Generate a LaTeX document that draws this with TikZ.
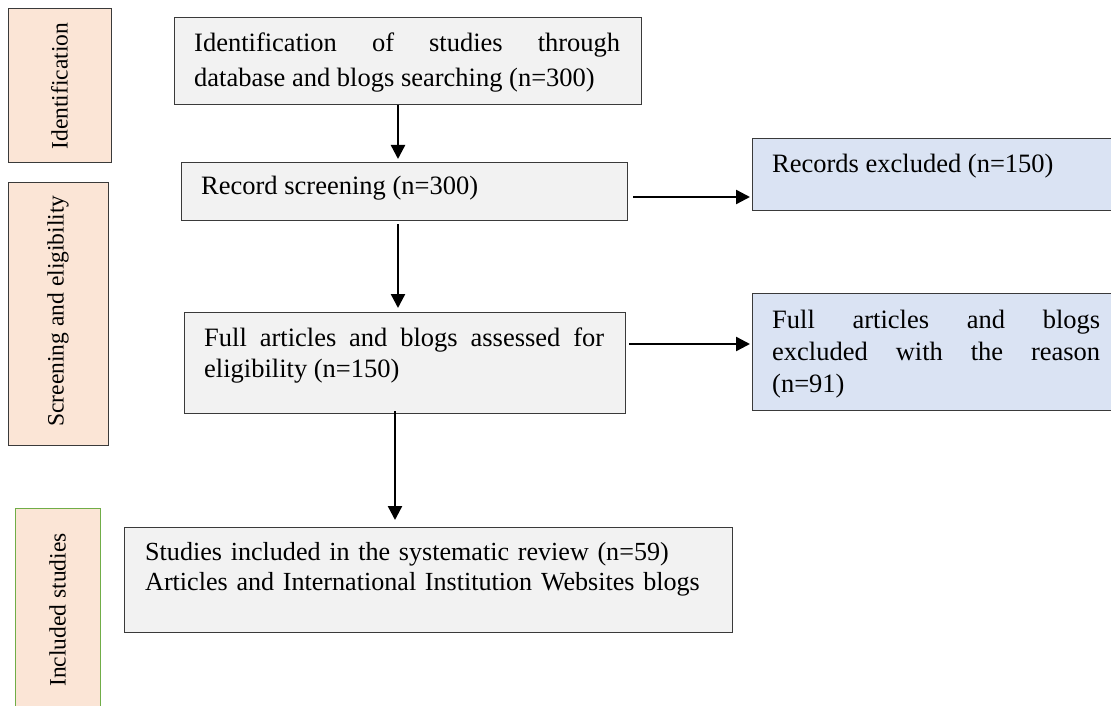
\documentclass[tikz,border=0pt]{standalone}
\usepackage{fontspec}
\setmainfont{Liberation Serif}
\usetikzlibrary{arrows.meta}
\definecolor{boxgray}{HTML}{F2F2F2}
\definecolor{peach}{HTML}{FBE5D6}
\definecolor{paleblue}{HTML}{DAE3F3}
\definecolor{edgegray}{HTML}{3A3A3A}
\definecolor{sidegreen}{HTML}{70AD47}
\hyphenpenalty=10000
\exhyphenpenalty=10000
\begin{document}
\begin{tikzpicture}[x=1pt,y=-1pt,
  box/.style={rectangle, draw=edgegray, line width=1.3pt, fill=boxgray, inner sep=0, anchor=north west},
  bluebox/.style={box, fill=paleblue},
  sidebox/.style={box, fill=peach},
  txt/.style={anchor=base west, inner sep=0, font=\fontsize{26.5}{31}\selectfont},
  sidetxt/.style={rotate=90, inner sep=0, font=\fontsize{23.5}{28}\selectfont},
  arr/.style={-{Triangle[length=14pt,width=14pt]}, line width=2.4pt, black}]
\useasboundingbox (0,0) rectangle (1111,706);

% side boxes
\node[sidebox, minimum width=103pt, minimum height=154pt] (s1) at (8,8) {};
\node[sidetxt] (s1t) at (59.5,86) {Identification};
\node[sidebox, minimum width=100pt, minimum height=263pt] (s2) at (8,182) {};
\node[sidetxt] (s2t) at (58,311) {Screening and eligibility};
\node[sidebox, draw=sidegreen, minimum width=85pt, minimum height=210pt] (s3) at (15,508) {};
\node[sidetxt] (s3t) at (57.5,610) {Included studies};

% main boxes
\node[box, minimum width=467pt, minimum height=87pt] (b1) at (174,17) {};
\node[txt, text width=426pt, align=justify, font=\fontsize{26.5}{35}\selectfont] (b1t) at (194,52)
  {Identification of studies through database and blogs searching (n=300)};

\node[box, minimum width=446pt, minimum height=58pt] (b2) at (181,162) {};
\node[txt] (b2t) at (201,194) {Record screening (n=300)};

\node[bluebox, minimum width=359pt, minimum height=72pt] (e1) at (752,138) {};
\node[txt] (e1t) at (772,172) {Records excluded (n=150)};

\node[box, minimum width=441pt, minimum height=101pt] (b3) at (184,312) {};
\node[txt, text width=400pt, align=justify] (b3t) at (204,346)
  {Full articles and blogs assessed for eligibility (n=150)};

\node[bluebox, minimum width=359pt, minimum height=117pt] (e2) at (752,293) {};
\node[txt, text width=328pt, align=justify, font=\fontsize{26.5}{32}\selectfont] (e2t) at (772,328)
  {Full articles and blogs excluded with the reason (n=91)};

\node[box, minimum width=608pt, minimum height=105pt] (b4) at (124,527) {};
\node[txt, text width=600pt, align=left, font=\fontsize{26.1}{30}\selectfont] (b4t) at (145,560)
  {Studies included in the systematic review (n=59)\\Articles and International Institution Websites blogs};

% connector guides
\coordinate (c1) at (398,0);
\coordinate (c2) at (395,0);
\coordinate (r1) at (0,197);
\coordinate (r2) at (0,344);

% connectors
\draw[arr, shorten >=3pt] (b1.south -| c1) -- (b2.north -| c1);
\draw[arr, shorten <=3pt, shorten >=4pt] (b2.south -| c1) -- (b3.north -| c1);
\draw[arr, shorten <=-3pt, shorten >=7pt] (b3.south -| c2) -- (b4.north -| c2);
\draw[arr, shorten <=5pt, shorten >=2pt] (b2.east |- r1) -- (e1.west |- r1);
\draw[arr, shorten <=3pt, shorten >=2pt] (b3.east |- r2) -- (e2.west |- r2);
\end{tikzpicture}
\end{document}
